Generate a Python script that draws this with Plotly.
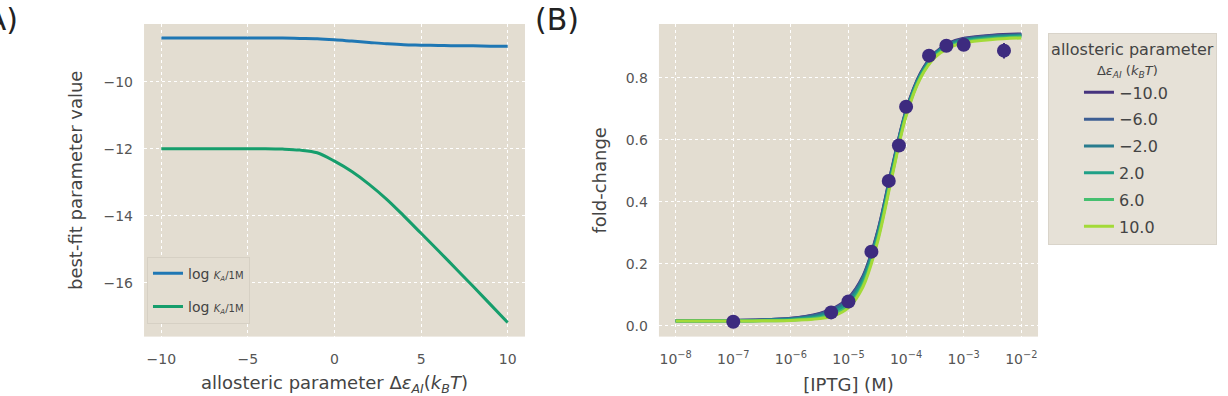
import plotly.graph_objects as go

# ---------------- Panel A data ----------------
eps_ai = [-10, -8, -6, -4, -3, -2, -1, 0, 1, 2, 3, 4, 5, 6, 7, 8, 9, 10]
log_ka = [-8.70, -8.70, -8.70, -8.70, -8.70, -8.71, -8.72, -8.75, -8.79, -8.83,
          -8.87, -8.90, -8.91, -8.92, -8.93, -8.93, -8.94, -8.94]
log_ki = [-12.0, -12.0, -12.0, -12.0, -12.01, -12.04, -12.12, -12.37, -12.68, -13.06,
          -13.50, -14.00, -14.52, -15.04, -15.57, -16.10, -16.64, -17.18]
legend_a_labels = ["log <span style='font-size:10px'><i>K<sub>A</sub></i>/1M</span>",
                   "log <span style='font-size:10px'><i>K<sub>A</sub></i>/1M</span>"]
colors_a = ["#1f77b4", "#169e6c"]

# ---------------- Panel B data ----------------
iptg_curve = [1e-8, 1e-7, 3.16e-7, 1e-6, 1.78e-6, 3.16e-6, 5.62e-6, 1e-5, 1.78e-5,
              3.16e-5, 5.62e-5, 1e-4, 1.78e-4, 3.16e-4, 5.62e-4, 1e-3, 3.16e-3, 1e-2]
eps_labels = ["\u221210.0", "\u22126.0", "\u22122.0", "2.0", "6.0", "10.0"]
fc_m10 = [0.016, 0.017, 0.019, 0.024, 0.030, 0.040, 0.057, 0.090, 0.160, 0.300, 0.505,
          0.695, 0.815, 0.880, 0.912, 0.927, 0.937, 0.941]
fc_m6 = [0.016, 0.017, 0.019, 0.023, 0.029, 0.038, 0.055, 0.087, 0.157, 0.297, 0.502,
         0.693, 0.813, 0.878, 0.910, 0.925, 0.935, 0.939]
fc_m2 = [0.016, 0.016, 0.018, 0.022, 0.027, 0.035, 0.051, 0.082, 0.152, 0.292, 0.498,
         0.690, 0.810, 0.876, 0.908, 0.923, 0.933, 0.937]
fc_p2 = [0.015, 0.016, 0.017, 0.020, 0.024, 0.030, 0.044, 0.073, 0.142, 0.283, 0.490,
         0.685, 0.806, 0.872, 0.904, 0.919, 0.929, 0.934]
fc_p6 = [0.015, 0.015, 0.016, 0.018, 0.021, 0.026, 0.037, 0.064, 0.132, 0.274, 0.482,
         0.680, 0.802, 0.868, 0.900, 0.915, 0.926, 0.931]
fc_p10 = [0.015, 0.015, 0.016, 0.017, 0.019, 0.023, 0.032, 0.058, 0.125, 0.267, 0.476,
          0.676, 0.799, 0.865, 0.897, 0.912, 0.923, 0.928]
curve_colors = ["#46337e", "#3d5e93", "#287c8e", "#1fa087", "#45bf6f", "#a3da38"]

iptg_data = [1e-7, 5e-6, 1e-5, 2.5e-5, 5e-5, 7.5e-5, 1e-4, 2.5e-4, 5e-4, 1e-3, 5e-3]
fc_data = [0.013, 0.043, 0.078, 0.239, 0.467, 0.581, 0.706, 0.871, 0.903, 0.906, 0.887]
fc_err = [0.0, 0.0, 0.0, 0.0, 0.0, 0.0, 0.0, 0.0, 0.0, 0.0, 0.025]

x_tickvals = [1e-8, 1e-7, 1e-6, 1e-5, 1e-4, 1e-3, 1e-2]
x_ticktext = ["10<sup>\u22128</sup>", "10<sup>\u22127</sup>", "10<sup>\u22126</sup>",
              "10<sup>\u22125</sup>", "10<sup>\u22124</sup>", "10<sup>\u22123</sup>",
              "10<sup>\u22122</sup>"]

BG = "#e3ddd1"
FONT = "DejaVu Sans"
TXT = "#444444"

fig = go.Figure()

for i, (y, name, c) in enumerate(zip([log_ka, log_ki], legend_a_labels, colors_a)):
    fig.add_trace(go.Scatter(x=eps_ai, y=y, mode="lines", name=name,
                             line=dict(color=c, width=3, shape="spline"),
                             legendgroup=f"a{i}",
                             xaxis="x", yaxis="y", legend="legend"))

for i, (y, name, c) in enumerate(zip([fc_m10, fc_m6, fc_m2, fc_p2, fc_p6, fc_p10],
                                     eps_labels, curve_colors)):
    fig.add_trace(go.Scatter(x=iptg_curve, y=y, mode="lines", name=name,
                             line=dict(color=c, width=3, shape="spline"),
                             legendgroup=f"b{i}",
                             xaxis="x2", yaxis="y2", legend="legend2"))

fig.add_trace(go.Scatter(x=iptg_data, y=fc_data, mode="markers", showlegend=False,
                         marker=dict(color="#3d2b7f", size=14),
                         error_y=dict(type="data", array=fc_err, color="#3d2b7f",
                                      thickness=2, width=0),
                         xaxis="x2", yaxis="y2"))

axis_common = dict(showgrid=True, gridcolor="white", griddash="dot", gridwidth=1,
                   zeroline=False, showline=False, ticks="",
                   tickfont=dict(family=FONT, size=14, color="#555555"))

legend_title = ("allosteric parameter<br>" + "&nbsp;" * 9 +
                "<span style='font-size:13px'>\u0394<i>\u03b5<sub>AI</sub></i> "
                "(<i>k<sub>B</sub>T</i>)</span>")

fig.update_layout(
    width=1228, height=396,
    margin=dict(l=0, r=0, t=0, b=0),
    paper_bgcolor="white", plot_bgcolor=BG,
    font=dict(family=FONT, color=TXT),
    xaxis=dict(domain=[0.1173, 0.4275], range=[-11, 11], tickvals=[-10, -5, 0, 5, 10],
               anchor="y", ticklabelstandoff=12,
               title=dict(text="allosteric parameter \u0394<i>\u03b5<sub>AI</sub></i>(<i>k<sub>B</sub>T</i>)",
                          font=dict(size=18, color=TXT), standoff=12),
               **axis_common),
    yaxis=dict(domain=[0.15, 0.9394], range=[-17.6, -8.28], tickvals=[-16, -14, -12, -10],
               anchor="x", ticklabelstandoff=10,
               title=dict(text="best-fit parameter value", font=dict(size=18, color=TXT),
                          standoff=16),
               **axis_common),
    xaxis2=dict(domain=[0.5366, 0.8453], type="log", range=[-8.29, -1.71],
                tickvals=x_tickvals, ticktext=x_ticktext, anchor="y2", ticklabelstandoff=12,
                title=dict(text="[IPTG] (M)", font=dict(size=18, color=TXT), standoff=12),
                **axis_common),
    yaxis2=dict(domain=[0.15, 0.9394], range=[-0.035, 0.973], tickvals=[0, 0.2, 0.4, 0.6, 0.8],
                tickformat=".1f", anchor="x2", ticklabelstandoff=10,
                title=dict(text="fold-change", font=dict(size=18, color=TXT), standoff=14),
                **axis_common),
    legend=dict(x=0.1197, y=0.352, xanchor="left", yanchor="top",
                bgcolor=BG, bordercolor="#d6d0c4", borderwidth=1,
                font=dict(family=FONT, size=14, color=TXT),
                tracegroupgap=12),
    legend2=dict(x=0.8534, y=0.917, xanchor="left", yanchor="top",
                 bgcolor="#e6e1d7", bordercolor="#d9d4ca", borderwidth=1,
                 font=dict(family=FONT, size=16, color=TXT),
                 tracegroupgap=3, indentation=30,
                 title=dict(text=legend_title, side="top center",
                            font=dict(family=FONT, size=16, color=TXT))),
    annotations=[
        dict(text="(A)", x=20 / 1228, y=1.0, xref="paper", yref="paper",
             xanchor="right", yanchor="top", showarrow=False,
             font=dict(family=FONT, size=30, color="#222222")),
        dict(text="(B)", x=533 / 1228, y=1.0, xref="paper", yref="paper",
             xanchor="left", yanchor="top", showarrow=False,
             font=dict(family=FONT, size=30, color="#222222")),
    ],
)

fig.write_html("out.html")
